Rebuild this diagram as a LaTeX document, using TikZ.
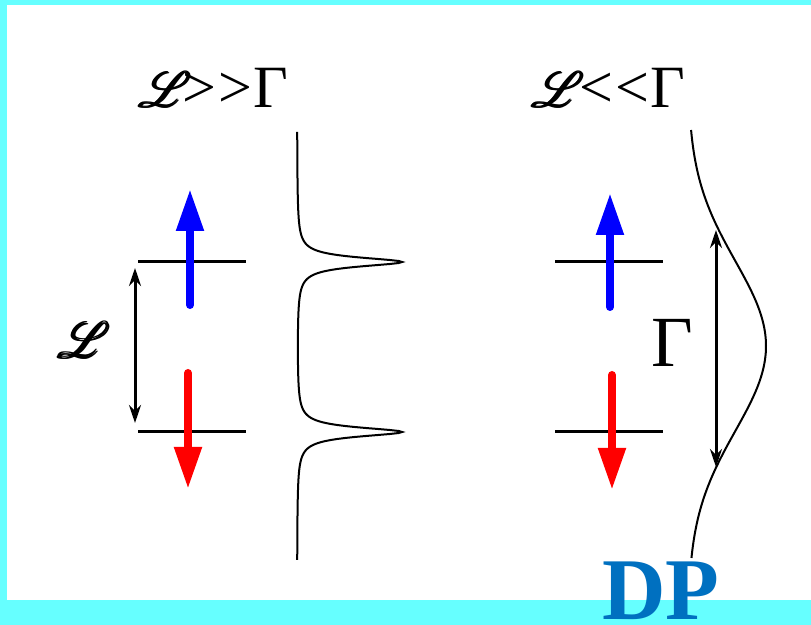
\documentclass[tikz,border=0pt]{standalone}
\usepackage{amsmath}
\usepackage{fontspec}
\setmainfont{Liberation Serif}
\usepackage{mathrsfs}
\usetikzlibrary{arrows.meta, positioning}

\definecolor{framecyan}{HTML}{66FFFF}
\definecolor{dpblue}{HTML}{0070C0}

\tikzset{
  level/.style={line width=1.5pt},
  spin/.style={line width=4pt, line cap=round, -{Triangle[length=21pt,width=13pt]}},
  gap/.style={line width=1.5pt, {Stealth[length=9pt,width=6pt]}-{Stealth[length=9pt,width=6pt]}},
  dos/.style={line width=1pt},
  big/.style={font=\fontsize{30}{36}\selectfont, inner sep=0pt},
}
\newcommand{\Lsym}{{\fontsize{40}{44}\selectfont$\pmb{\mathscr{L}}$}}

\begin{document}
\begin{tikzpicture}[x=0.5pt,y=-0.5pt]
  % frame
  \fill[framecyan] (0,0) rectangle (811,625);
  \fill[white] (7,5) rectangle (811,600);
  \useasboundingbox (0,0) rectangle (811,625);

  % titles
  \node[big] (ttlA) at (214,88) {\Lsym\kern-5pt>\kern1pt>\kern1ptΓ};
  \node[big] (ttlB) at (609,88) {\Lsym\kern-3pt<\kern1pt<\kern1ptΓ};

  % levels
  \coordinate (upAl) at (138,262);  \coordinate (upAr) at (246,262);
  \coordinate (dnAl) at (138,432);  \coordinate (dnAr) at (246,432);
  \coordinate (upBl) at (555,262);  \coordinate (upBr) at (663,262);
  \coordinate (dnBl) at (555,432);  \coordinate (dnBr) at (663,432);
  \draw[level] (upAl) -- (upAr);
  \draw[level] (dnAl) -- (dnAr);
  \draw[level] (upBl) -- (upBr);
  \draw[level] (dnBl) -- (dnBr);

  % spins
  \draw[spin, blue] (190,305) -- (190,189);
  \draw[spin, red] (188,373) -- (188,489);
  \draw[spin, blue] (610,307) -- (610,193);
  \draw[spin, red] (612,375) -- (612,490);

  % splitting and width
  \coordinate (gapAt) at (135,268);  \coordinate (gapAb) at (135,423);
  \coordinate (gapBt) at (716,230);  \coordinate (gapBb) at (716,467);
  \draw[gap] (gapAt) -- (gapAb);
  \draw[gap] (gapBt) -- (gapBb);
  \node[inner sep=0pt] (lblL) at (85,340) {\Lsym};
  \node[big, font=\fontsize{36}{40}\selectfont] (lblG) at (672,343) {Γ};

  % spectra
  \draw[dos] plot[variable=\t, domain=132:560, samples=429]
    ({297+105*(0.3025/(((\t-262)/10)^2+0.3025)+0.3025/(((\t-432)/10)^2+0.3025))}, {\t});
  \draw[dos] plot[variable=\t, domain=130:558, samples=120, smooth]
    ({688+78*exp(-0.5*((\t-346)/85)^2)}, {\t});

  \node[dpblue, font=\fontsize{44}{50}\selectfont\bfseries, inner sep=0pt] (dp) at (661,591) {DP};
\end{tikzpicture}
\end{document}
